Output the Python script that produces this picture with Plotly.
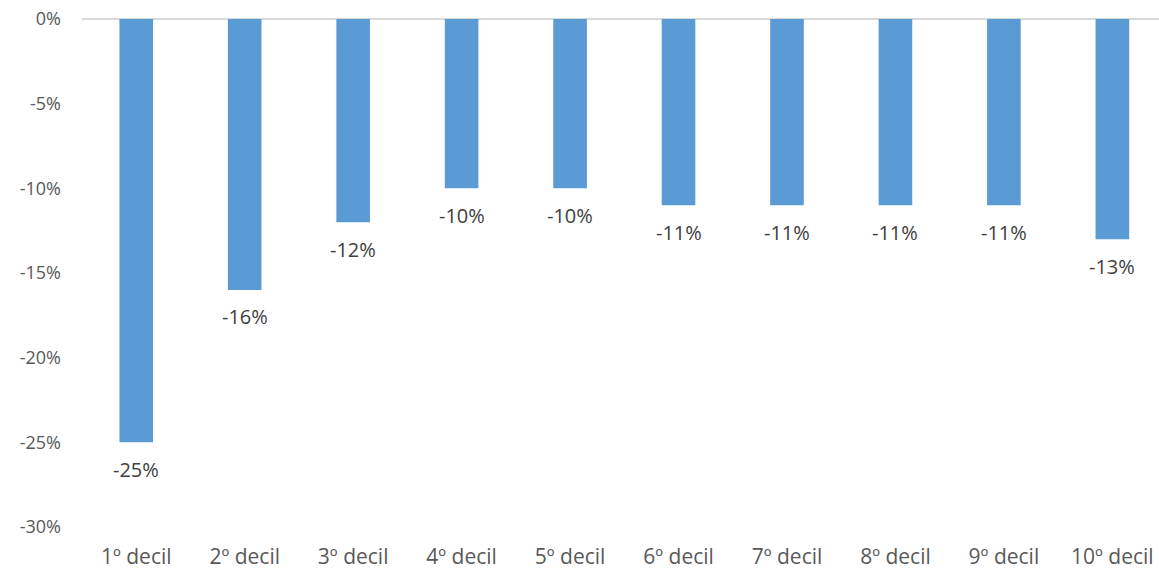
import plotly.graph_objects as go

categories = ["1º decil", "2º decil", "3º decil", "4º decil", "5º decil",
              "6º decil", "7º decil", "8º decil", "9º decil", "10º decil"]
values = [-25, -16, -12, -10, -10, -11, -11, -11, -11, -13]
y_ticks = [0, -5, -10, -15, -20, -25, -30]
y_tick_labels = ["0%", "-5%", "-10%", "-15%", "-20%", "-25%", "-30%"]
labels = [f"{v}%" for v in values]

xs = list(range(len(categories)))

fig = go.Figure(go.Bar(
    x=xs,
    y=values,
    marker=dict(color="#5B9BD5", line=dict(width=0)),
    width=0.31,
    hoverinfo="skip",
))

for x, v, t in zip(xs, values, labels):
    fig.add_annotation(
        x=x, y=v, text=t, showarrow=False,
        yanchor="middle", yshift=-27,
        font=dict(family="Open Sans", size=20, color="#404040"),
    )

fig.update_layout(
    width=1159, height=572,
    margin=dict(l=82, r=0, t=19, b=45),
    plot_bgcolor="white", paper_bgcolor="white",
    showlegend=False,
    xaxis=dict(
        range=[-0.5, 9.43],
        tickmode="array",
        tickvals=xs,
        ticktext=categories,
        showgrid=False, zeroline=False, showline=False,
        tickfont=dict(family="Open Sans", size=21, color="#595959"),
        ticks="", ticklabelstandoff=15,
    ),
    yaxis=dict(
        range=[-30, 0],
        tickmode="array",
        tickvals=y_ticks,
        ticktext=y_tick_labels,
        showgrid=False,
        zeroline=True, zerolinecolor="#D9D9D9", zerolinewidth=2,
        showline=False,
        tickfont=dict(family="Open Sans", size=18, color="#595959"),
        ticks="", ticklabelstandoff=20,
    ),
)

fig.write_html("out.html")
